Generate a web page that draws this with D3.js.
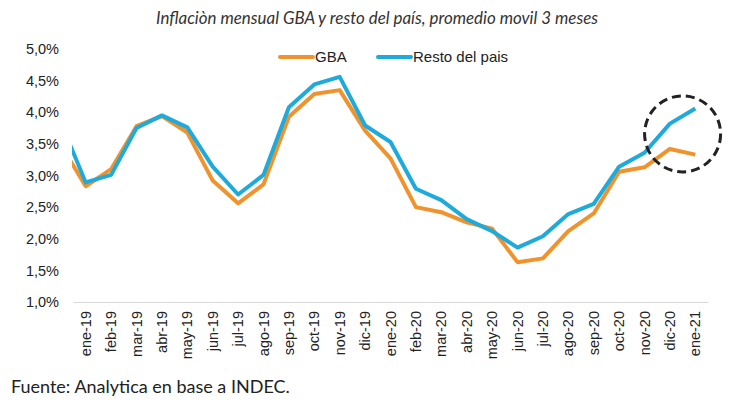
<!DOCTYPE html>
<html>
<head>
<meta charset="utf-8">
<script src="https://cdn.jsdelivr.net/npm/d3@7"></script>
<style>
html,body{margin:0;padding:0;background:#fff;}
svg{display:block;}
</style>
</head>
<body>
<svg id="chart" width="746" height="409"></svg>
<script>
// Data
const categories = ["ene-19","feb-19","mar-19","abr-19","may-19","jun-19","jul-19","ago-19","sep-19","oct-19","nov-19","dic-19",
  "ene-20","feb-20","mar-20","abr-20","may-20","jun-20","jul-20","ago-20","sep-20","oct-20","nov-20","dic-20","ene-21"];
// Previous month (dic-18), only partly visible at the left edge
const prevGBA = 3.50;
const prevResto = 3.86;
const gba = [2.83,3.10,3.78,3.94,3.68,2.92,2.56,2.86,3.93,4.29,4.35,3.71,
  3.27,2.50,2.42,2.26,2.16,1.63,1.69,2.12,2.40,3.06,3.13,3.42,3.33];
const resto = [2.89,3.01,3.75,3.95,3.76,3.14,2.70,3.01,4.08,4.44,4.56,3.79,
  3.53,2.79,2.61,2.31,2.12,1.86,2.04,2.39,2.55,3.14,3.36,3.82,4.06];
const yTicks = [1.0,1.5,2.0,2.5,3.0,3.5,4.0,4.5,5.0];
const seriesNames = ["GBA","Resto del pais"];
const colors = ["#F0932D","#1FAADC"];

const svg = d3.select("#chart");
const m = {left:73, right:38, top:49, bottom:107};
const W = 746, H = 409;
const pw = W - m.left - m.right, ph = H - m.top - m.bottom;

const x = d3.scaleBand().domain(categories).range([m.left, m.left+pw]).paddingInner(0).paddingOuter(0);
const xc = d => x(d) + x.bandwidth()/2;
const y = d3.scaleLinear().domain([1,5]).range([m.top+ph, m.top]);

// Title
svg.append("text")
  .attr("x", 377).attr("y", 24)
  .attr("text-anchor","middle")
  .attr("font-family","Lato,'DejaVu Sans Condensed',sans-serif")
  .attr("font-style","italic")
  .attr("font-size",17)
  .attr("textLength",442).attr("lengthAdjust","spacingAndGlyphs")
  .attr("fill","#333")
  .text("Inflaciòn mensual GBA y resto del país, promedio movil 3 meses");

// Y axis labels
const yAxis = d3.axisLeft(y).tickValues(yTicks).tickSize(0).tickPadding(0)
  .tickFormat(d => d3.format(".1f")(d).replace(".", ",") + "%");
const gy = svg.append("g").attr("transform", `translate(${m.left-14},0)`).call(yAxis);
gy.select(".domain").remove();
gy.selectAll("text").attr("font-family","Arial,'Liberation Sans',sans-serif").attr("font-size",14.5).attr("fill","#222");

// X axis
const xAxis = d3.axisBottom(x).tickSize(0).tickPadding(0);
const gx = svg.append("g").attr("transform", `translate(0,${m.top+ph})`).call(xAxis);
gx.select(".domain").attr("stroke","#d9d9d9").attr("stroke-width",1.2);
gx.selectAll("text")
  .attr("font-family","Arial,'Liberation Sans',sans-serif").attr("font-size",14.5).attr("fill","#222")
  .attr("text-anchor","end")
  .attr("transform","rotate(-90)")
  .attr("x",-9).attr("y",0).attr("dy","0.35em");

// Clip
svg.append("clipPath").attr("id","clip").append("rect")
  .attr("x", m.left-1).attr("y", 0).attr("width", pw+2).attr("height", H);

const line = d3.line().x(d => d[0]).y(d => y(d[1]));
function pts(prev, arr){
  const p = [[xc(categories[0]) - x.bandwidth(), prev]];
  arr.forEach((v,i) => p.push([xc(categories[i]), v]));
  return p;
}
const g = svg.append("g").attr("clip-path","url(#clip)");
g.append("path").datum(pts(prevGBA, gba)).attr("d", line)
  .attr("fill","none").attr("stroke",colors[0]).attr("stroke-width",4).attr("stroke-linejoin","round");
g.append("path").datum(pts(prevResto, resto)).attr("d", line)
  .attr("fill","none").attr("stroke",colors[1]).attr("stroke-width",4).attr("stroke-linejoin","round");

// Dashed circle annotation around the last two months
const n = categories.length;
const cx = (xc(categories[n-2]) + xc(categories[n-1]))/2;
const cyv = (gba[n-2]+gba[n-1]+resto[n-2]+resto[n-1])/4;
svg.append("circle").attr("cx", cx).attr("cy", y(cyv)).attr("r", 38)
  .attr("fill","none").attr("stroke","#222").attr("stroke-width",3).attr("stroke-dasharray","9,5");

// Legend
const leg = [{x:280, name:seriesNames[0], c:colors[0]},{x:378, name:seriesNames[1], c:colors[1]}];
leg.forEach(l => {
  svg.append("line").attr("x1", l.x).attr("x2", l.x+33).attr("y1",57).attr("y2",57)
    .attr("stroke", l.c).attr("stroke-width",4).attr("stroke-linecap","round");
  svg.append("text").attr("x", l.x+35).attr("y", 62)
    .attr("font-family","Arial,'Liberation Sans',sans-serif").attr("font-size",15).attr("fill","#222")
    .text(l.name);
});

// Footer
svg.append("text").attr("x", 11).attr("y", 393)
  .attr("font-family","Lato,sans-serif").attr("font-size",18).attr("fill","#222")
  .text("Fuente: Analytica en base a INDEC.");
</script>
</body>
</html>
